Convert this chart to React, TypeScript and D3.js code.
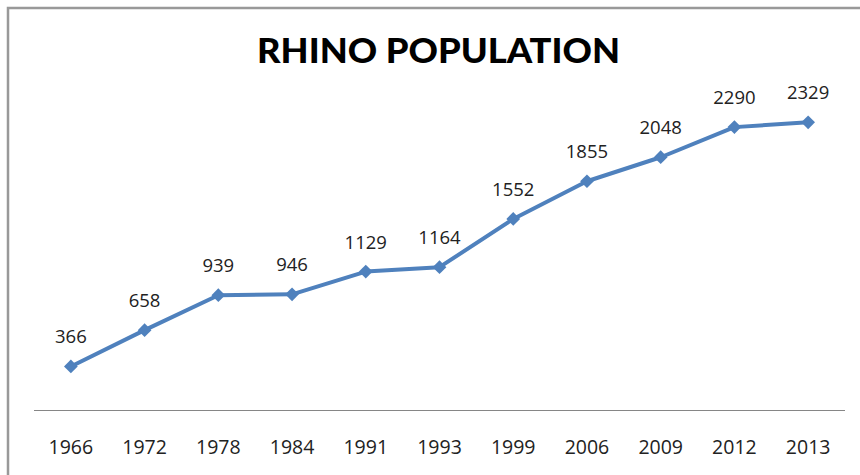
import React from "react";
import * as d3 from "d3";

const years = ["1966", "1972", "1978", "1984", "1991", "1993", "1999", "2006", "2009", "2012", "2013"];
const population = [366, 658, 939, 946, 1129, 1164, 1552, 1855, 2048, 2290, 2329];
const title = "RHINO POPULATION";

const W = 860;
const H = 475;

export default function App() {
  const x = d3.scaleBand<string>().domain(years).range([34, 845]);
  const y = d3.scaleLinear().domain([0, 2500]).range([412, 101]);
  const cx = (d: string) => (x(d) as number) + x.bandwidth() / 2;
  const line = d3
    .line<number>()
    .x((_, i) => cx(years[i]))
    .y((d) => y(d));
  const diamond = d3.symbol().type(d3.symbolDiamond2).size(120)() as string;
  const font = "'Open Sans', 'DejaVu Sans', sans-serif";

  return (
    <svg
      width={W}
      height={H}
      style={{ position: "absolute", left: 0, top: 0, background: "#fff" }}
    >
      <rect x={0} y={0} width={W} height={H} fill="#fff" />
      <path d={`M8,${H} V8 H${W}`} fill="none" stroke="#999" strokeWidth={2.5} />
      <text
        x={438.5}
        y={63}
        textAnchor="middle"
        fontFamily="Lato, 'Open Sans', sans-serif"
        fontWeight={900}
        fontSize={35}
        textLength={363}
        lengthAdjust="spacingAndGlyphs"
        fill="#000"
      >
        {title}
      </text>
      <line x1={34} x2={845} y1={410.5} y2={410.5} stroke="#868686" strokeWidth={1} />
      {years.map((yr) => (
        <text
          key={yr}
          x={cx(yr)}
          y={454}
          textAnchor="middle"
          fontFamily={font}
          fontSize={19.5}
          fill="#222"
        >
          {yr}
        </text>
      ))}
      <path d={line(population) as string} fill="none" stroke="#4F81BD" strokeWidth={4} strokeLinejoin="round" />
      {population.map((v, i) => (
        <path key={i} d={diamond} transform={`translate(${cx(years[i])},${y(v)})`} fill="#4F81BD" />
      ))}
      {population.map((v, i) => (
        <text
          key={"l" + i}
          x={cx(years[i])}
          y={y(v) - 23}
          textAnchor="middle"
          fontFamily={font}
          fontSize={18.5}
          fill="#222"
        >
          {v}
        </text>
      ))}
    </svg>
  );
}
